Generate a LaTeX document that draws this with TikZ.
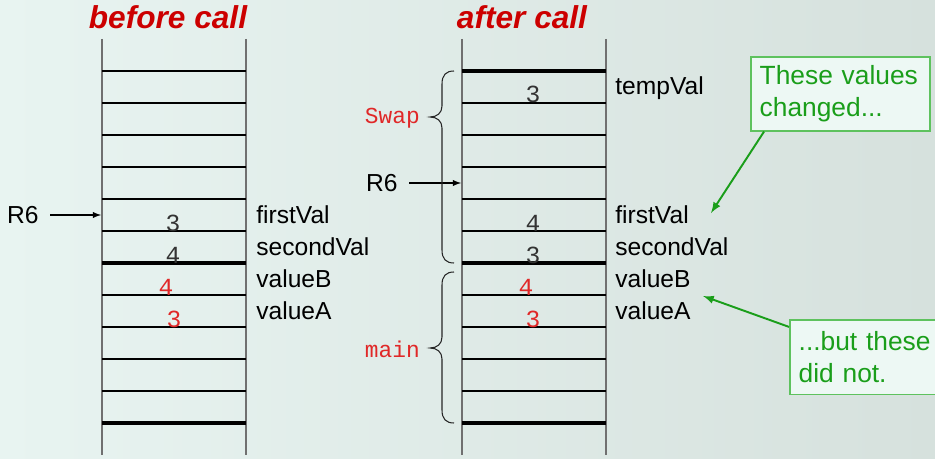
\documentclass[tikz,border=0pt]{standalone}
\usepackage{fontspec}
\setmainfont{Liberation Sans}
\newfontfamily\codefont{Liberation Mono}
\usepackage{tikz}
\usetikzlibrary{positioning}

\definecolor{bgtop}{HTML}{E8F4F1}
\definecolor{bgbot}{HTML}{D6E1DD}
\definecolor{railgray}{HTML}{707070}
\definecolor{titlered}{HTML}{CC0000}
\definecolor{codered}{HTML}{E02828}
\definecolor{numgray}{HTML}{333333}
\definecolor{notegreen}{HTML}{1A9E1A}
\definecolor{noteline}{HTML}{5EC25E}
\definecolor{notefill}{HTML}{EDF8F4}

\tikzset{
  rail/.style={draw=railgray, line width=1.1pt},
  slot/.style={line width=0.6pt},
  frame/.style={line width=2.4pt},
  title/.style={font=\fontsize{18}{20}\selectfont\bfseries\itshape, text=titlered},
  varname/.style={anchor=base west, inner sep=0pt, font=\fontsize{14}{16}\selectfont},
  reg/.style={anchor=west, font=\fontsize{14}{16}\selectfont},
  val/.style={anchor=base, inner sep=0pt, font=\codefont\fontsize{14}{16}\selectfont, text=numgray},
  arg/.style={val, text=codered},
  frameName/.style={anchor=east, text=codered, font=\codefont\fontsize{13}{15}\selectfont},
  brace/.style={line width=0.6pt, draw=black!85},
  note/.style={draw=noteline, fill=notefill, text=notegreen, line width=1pt,
    align=left, anchor=north west, inner xsep=5pt, font=\fontsize{15}{18}\selectfont},
  pointer/.style={-latex, line width=0.6pt, shorten <=3pt},
  hint/.style={-latex, draw=notegreen, line width=1.1pt}
}

\begin{document}
\begin{tikzpicture}[x=0.02cm, y=-0.02cm]
		\useasboundingbox (0,0) rectangle (935,459);
		\clip (0,0) rectangle (935,459);
		% Background
		\shade[left color=bgtop, right color=bgbot] (0,0) rectangle (935,459);
		% Titles
		\node[title] (before) at (168,17) {before call};
		\node[title] (after) at (522,17) {after call};
		% Stack before the call
		\draw[rail] (102,39) -- (102,455);
		\draw[rail] (246,39) -- (246,455);
		\foreach \y in {71,103,...,423}
			\draw[slot] (102,\y) -- (246,\y);
		\draw[frame] (102,263) -- (246,263);
		\draw[frame] (102,423) -- (246,423);
		% Stack after the call
		\draw[rail] (462,39) -- (462,455);
		\draw[rail] (606,39) -- (606,455);
		\foreach \y in {71,103,...,423}
			\draw[slot] (462,\y) -- (606,\y);
		\foreach \y in {71,263,423}
			\draw[frame] (462,\y) -- (606,\y);
		% Values before
		\node[val] (firstB) at (173,231) {3};
		\node[val] (secondB) at (173,263) {4};
		\node[arg] (valBB) at (166,295) {4};
		\node[arg] (valAB) at (174,327) {3};
		% Values after
		\node[val] (tempA) at (533,103) {3};
		\node[val] (firstA) at (533,231) {4};
		\node[val] (secondA) at (533,263) {3};
		\node[arg] (valBA) at (526,295) {4};
		\node[arg] (valAA) at (533,327) {3};
		% Variable names
		\node[varname] (nFirstB) at (256,223) {firstVal};
		\node[varname] (nSecondB) at (256,255) {secondVal};
		\node[varname] (nValBB) at (256,287) {valueB};
		\node[varname] (nValAB) at (256,319) {valueA};
		\node[varname] (nTempA) at (615,95) {tempVal};
		\node[varname] (nFirstA) at (615,223) {firstVal};
		\node[varname] (nSecondA) at (615,255) {secondVal};
		\node[varname] (nValBA) at (615,287) {valueB};
		\node[varname] (nValAA) at (615,319) {valueA};
		% Frame pointer
		\node[reg] (r6before) at (1,215) {R6};
		\coordinate (spBefore) at (101,215);
		\draw[pointer] (r6before) -- (spBefore);
		\node[reg] (r6after) at (360,183) {R6};
		\coordinate (spAfter) at (461,183);
		\draw[pointer] (r6after) -- (spAfter);
		% Braces for the frames
		\draw[brace] (454,71) .. controls (446,71) and (442,75) .. (442,84)
			-- (442,106) .. controls (442,113) and (437,117) .. (430,117)
			.. controls (437,117) and (442,121) .. (442,128)
			-- (442,250) .. controls (442,259) and (446,263) .. (454,263);
		\draw[brace] (454,272) .. controls (446,272) and (442,276) .. (442,285)
			-- (442,337) .. controls (442,344) and (437,348) .. (430,348)
			.. controls (437,348) and (442,352) .. (442,359)
			-- (442,410) .. controls (442,419) and (446,423) .. (454,423);
		\node[frameName] (swapLbl) at (426,118) {Swap};
		\node[frameName] (mainLbl) at (426,349) {main};
		% Notes
		\node[note, text width=92pt, minimum height=42pt] (changed) at (750,56) {These values\\changed...};
		\node[note, text width=130pt, minimum height=42.5pt] (unchanged) at (789,319) {...but these\\did not.};
		\coordinate (firstTip) at (711,213);
		\coordinate (valTip) at (703,296);
		\draw[hint] ([xshift=8pt]changed.south west) -- (firstTip);
		\draw[hint] ([yshift=-4.5pt]unchanged.north west) -- (valTip);
	\end{tikzpicture}
\end{document}
